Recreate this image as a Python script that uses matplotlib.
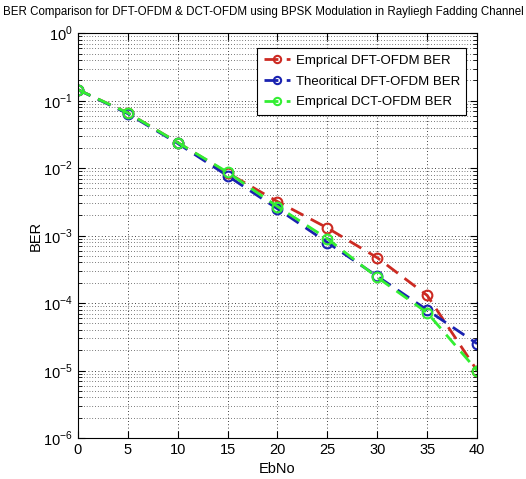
import numpy as np
import matplotlib
matplotlib.use("Agg")
import matplotlib.pyplot as plt
from matplotlib.ticker import FixedLocator, LogLocator, NullFormatter

plt.rcParams["font.family"] = ["Liberation Sans", "DejaVu Sans"]
plt.rcParams["mathtext.fontset"] = "custom"
plt.rcParams["mathtext.rm"] = "Liberation Sans"

# Eb/No points (dB)
ebno = [0, 5, 10, 15, 20, 25, 30, 35, 40]

# BER values
ber_dft_emp = [0.146, 0.066, 0.024, 0.0085, 0.0032, 0.00130, 4.7e-4, 1.3e-4, 1.0e-5]
ber_dft_theory = [0.146, 0.0642, 0.0233, 0.0077, 0.0025, 7.9e-4, 2.5e-4, 7.9e-5, 2.5e-5]
ber_dct_emp = [0.146, 0.066, 0.024, 0.0087, 0.0027, 9.0e-4, 2.4e-4, 7.2e-5, 1.0e-5]

labels = ["Emprical DFT-OFDM BER", "Theoritical DFT-OFDM BER", "Emprical DCT-OFDM BER"]
colors = ["#cc2a22", "#1a22b0", "#33ee33"]
decades = [1e-6, 1e-5, 1e-4, 1e-3, 1e-2, 1e-1, 1e0]

fig = plt.figure(figsize=(5.26, 4.79), dpi=100)
ax = fig.add_axes([0.148, 0.0856, 0.759, 0.845])

for y, lab, c in zip([ber_dft_emp, ber_dft_theory, ber_dct_emp], labels, colors):
    ax.semilogy(ebno, y, "--o", color=c, linewidth=2, markersize=7,
                markerfacecolor="none", markeredgewidth=1.5, dashes=(5, 3), label=lab)

ax.set_xlim(0, 40)
ax.set_ylim(1e-6, 1)
ax.set_xticks(ebno)
ax.yaxis.set_major_locator(FixedLocator(decades))
ax.set_yticklabels([r"$10^{%d}$" % int(np.log10(d)) for d in decades])
ax.yaxis.set_minor_locator(LogLocator(base=10, subs=np.arange(2, 10), numticks=20))
ax.yaxis.set_minor_formatter(NullFormatter())

ax.grid(True, which="major", linestyle=(0, (1, 3)), color="black", linewidth=0.6)
ax.grid(True, which="minor", axis="y", linestyle=(0, (1, 3)), color="black", linewidth=0.5)

ax.tick_params(which="both", direction="in", top=True, right=True, labelsize=10.5)
ax.tick_params(which="major", length=5)
ax.tick_params(which="minor", length=3)
for s in ax.spines.values():
    s.set_linewidth(0.8)

ax.set_xlabel("EbNo", fontsize=10.5, labelpad=4)
ax.set_ylabel("BER", fontsize=10.5, labelpad=0)
fig.text(0.5, 0.974, "BER Comparison for DFT-OFDM & DCT-OFDM using BPSK Modulation in Rayliegh Fadding Channel",
         fontsize=8.3, ha="center", va="center")

leg = ax.legend(loc="upper right", fontsize=9.5, fancybox=False, framealpha=1,
                edgecolor="black", handlelength=2.0, handletextpad=0.4, borderpad=0.5,
                labelspacing=0.65, markerscale=0.75, bbox_to_anchor=(0.99, 0.98))
leg.get_frame().set_linewidth(0.8)

fig.savefig("out.png", dpi=100)
